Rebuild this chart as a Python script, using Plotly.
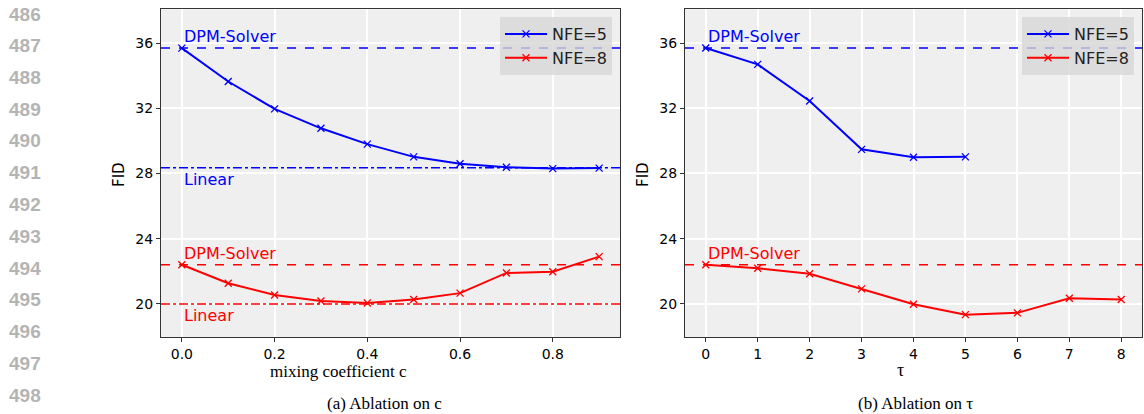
import plotly.graph_objects as go

# ---- data ----
mix_c = [0.0, 0.1, 0.2, 0.3, 0.4, 0.5, 0.6, 0.7, 0.8, 0.9]
mix_nfe5 = [35.69, 33.64, 31.96, 30.77, 29.8, 29.02, 28.6, 28.38, 28.3, 28.33]
mix_nfe8 = [22.4, 21.27, 20.55, 20.18, 20.06, 20.27, 20.66, 21.9, 21.97, 22.9]
tau = [0, 1, 2, 3, 4, 5, 6, 7, 8]
tau_nfe5 = [35.7, 34.69, 32.45, 29.48, 29.0, 29.02]
tau_nfe8 = [22.4, 22.19, 21.85, 20.92, 19.98, 19.34, 19.45, 20.35, 20.27]
dpm_nfe5 = 35.7
dpm_nfe8 = 22.4
linear_nfe5 = 28.35
linear_nfe8 = 20.0
line_numbers = list(range(486, 499))
y_ticks = [20, 24, 28, 32, 36]
c_ticks = [0.0, 0.2, 0.4, 0.6, 0.8]

BLUE = "#0000ff"
RED = "#ff0000"
SANS = "DejaVu Sans"
SERIF = "Liberation Serif"

W, H = 1144, 414
fig = go.Figure()

def add_series(x, y, color, name, xa, ya, legend, show):
    fig.add_trace(go.Scatter(
        x=x, y=y, mode="lines+markers", name=name,
        line=dict(color=color, width=2),
        marker=dict(symbol="x-thin", size=7, line=dict(color=color, width=1.3)),
        xaxis=xa, yaxis=ya, legend=legend, showlegend=show))

add_series(mix_c, mix_nfe5, BLUE, "NFE=5", "x", "y", "legend", True)
add_series(mix_c, mix_nfe8, RED, "NFE=8", "x", "y", "legend", True)
add_series(tau[:len(tau_nfe5)], tau_nfe5, BLUE, "NFE=5", "x2", "y2", "legend2", True)
add_series(tau, tau_nfe8, RED, "NFE=8", "x2", "y2", "legend2", True)

# reference lines
def hline(y, color, dash, xref, yref):
    fig.add_shape(type="line", xref=xref + " domain", yref=yref, x0=0, x1=1,
                  y0=y, y1=y, line=dict(color=color, width=1.5, dash=dash), layer="above")

hline(dpm_nfe5, BLUE, "dash", "x", "y")
hline(dpm_nfe8, RED, "dash", "x", "y")
hline(linear_nfe5, BLUE, "dashdot", "x", "y")
hline(linear_nfe8, RED, "dashdot", "x", "y")
hline(dpm_nfe5, BLUE, "dash", "x2", "y2")
hline(dpm_nfe8, RED, "dash", "x2", "y2")

def label(text, x, y, color, xref, yref, above):
    fig.add_annotation(text=text, x=x, y=y, xref=xref, yref=yref, showarrow=False,
                       xanchor="left", yanchor="bottom" if above else "top",
                       font=dict(family=SANS, size=16, color=color))

label("DPM-Solver", mix_c[0], dpm_nfe5, BLUE, "x", "y", True)
label("Linear", mix_c[0], linear_nfe5, BLUE, "x", "y", False)
label("DPM-Solver", mix_c[0], dpm_nfe8, RED, "x", "y", True)
label("Linear", mix_c[0], linear_nfe8, RED, "x", "y", False)
label("DPM-Solver", tau[0], dpm_nfe5, BLUE, "x2", "y2", True)
label("DPM-Solver", tau[0], dpm_nfe8, RED, "x2", "y2", True)

# line numbers at left margin
for i, n in enumerate(line_numbers):
    fig.add_annotation(text="<b>%d</b>" % n, x=7 / W, y=1 - (14 + i * 31.75) / H,
                       xref="paper", yref="paper", showarrow=False, xanchor="left",
                       yanchor="middle", font=dict(family="Liberation Sans", size=19, color="#b4b4b4"))

# axis titles & captions
def ptext(text, xpx, ypx, family, size, angle=0):
    fig.add_annotation(text=text, x=xpx / W, y=1 - ypx / H, xref="paper", yref="paper",
                       showarrow=False, xanchor="center", yanchor="middle", textangle=angle,
                       font=dict(family=family, size=size, color="black"))

ptext("FID", 119, 175, SANS, 15, -90)
ptext("FID", 643, 175, SANS, 15, -90)
ptext("mixing coefficient c", 338, 371, SERIF, 17)
ptext("τ", 900, 370, SERIF, 18)
ptext("(a) Ablation on c", 384, 403, SERIF, 17)
ptext("(b) Ablation on τ", 915, 403, SERIF, 17)

axis_common = dict(showgrid=True, gridcolor="white", gridwidth=1.5, zeroline=False,
                   showline=True, linecolor="#333333", linewidth=1, mirror=True,
                   ticks="outside", ticklen=4, tickcolor="#333333",
                   tickfont=dict(family=SANS, size=14, color="black"))

ydom = [1 - 337 / H, 1 - 9.3 / H]
legend_common = dict(y=1 - 17 / H, xanchor="right", yanchor="top",
                     bgcolor="rgba(215,215,215,0.8)", borderwidth=0,
                     font=dict(family=SANS, size=16, color="#222222"), itemwidth=42,
                     tracegroupgap=0)
fig.update_layout(
    width=W, height=H, margin=dict(l=0, r=0, t=0, b=0),
    paper_bgcolor="white", plot_bgcolor="#efefef",
    xaxis=dict(domain=[161 / W, 620 / W], range=[-0.045, 0.945], tickvals=c_ticks,
               ticktext=["%.1f" % v for v in c_ticks], anchor="y", **axis_common),
    yaxis=dict(domain=ydom, range=[17.97, 38.07], tickvals=y_ticks, anchor="x", **axis_common),
    xaxis2=dict(domain=[685 / W, 1142 / W], range=[-0.4, 8.4], tickvals=tau, anchor="y2", **axis_common),
    yaxis2=dict(domain=ydom, range=[17.97, 38.07], tickvals=y_ticks, anchor="x2", **axis_common),
    legend=dict(x=612 / W, **legend_common),
    legend2=dict(x=1134 / W, **legend_common),
)

fig.write_html("out.html")
